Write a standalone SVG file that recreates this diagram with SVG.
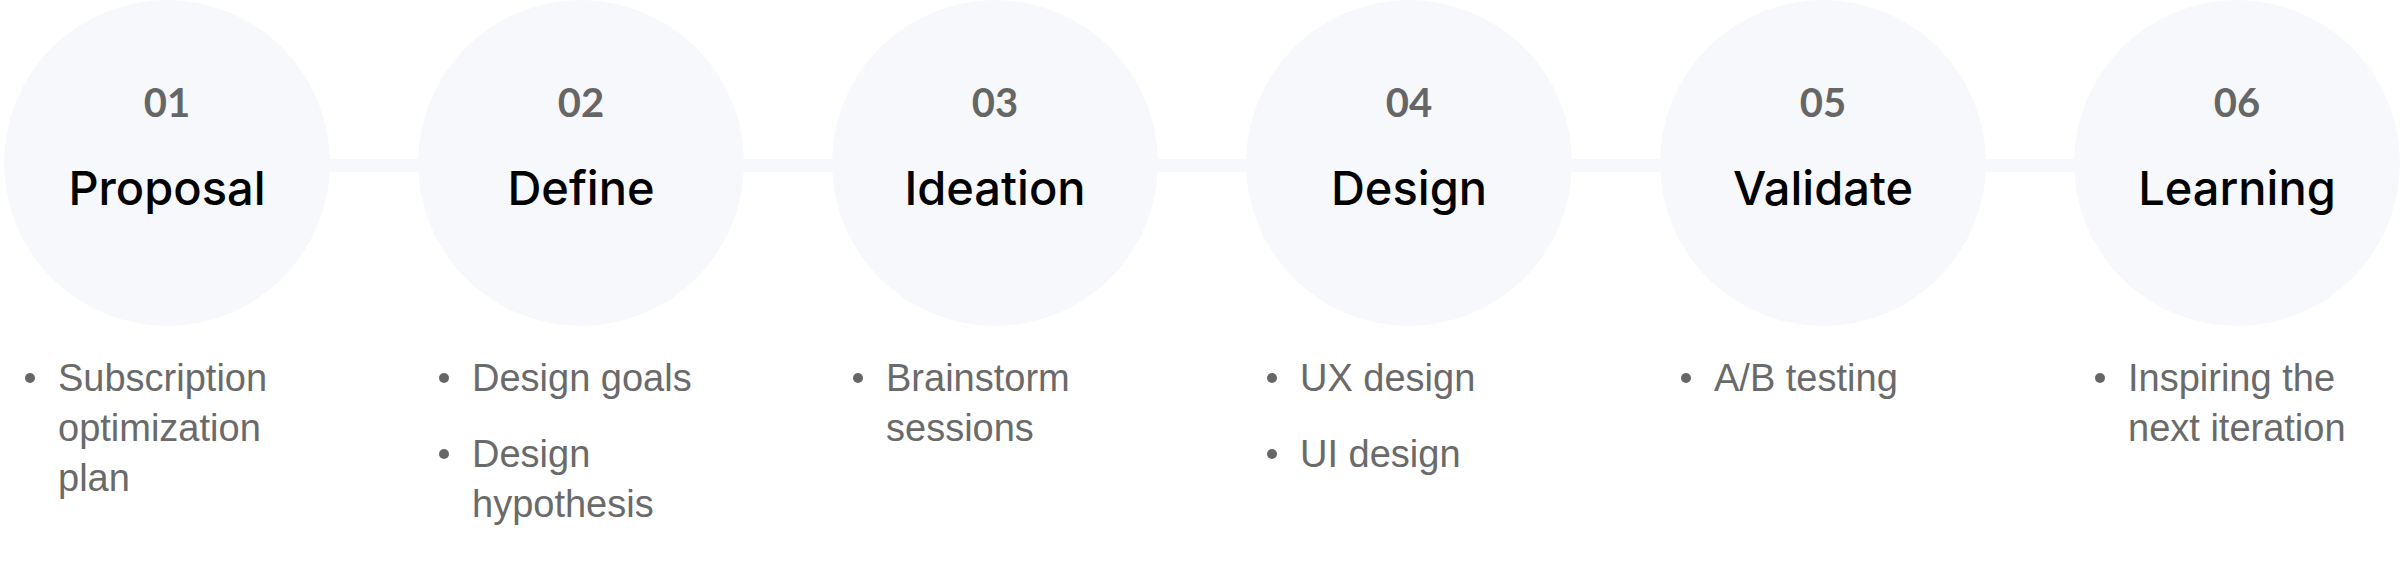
<svg xmlns="http://www.w3.org/2000/svg" width="2400" height="570" viewBox="0 0 2400 570">
<style>
.bg{fill:#ffffff}
.c{fill:#F7F8FC}
.bar{fill:#F7F8FC}
.num{font-family:"Lato","Noto Sans",sans-serif;font-weight:700;font-size:40px;fill:#666666;text-anchor:middle}
.ttl{font-family:"Inter","Liberation Sans",sans-serif;font-weight:500;font-size:47px;fill:#000000;text-anchor:middle}
.txt{font-family:"Liberation Sans","Noto Sans",sans-serif;font-size:38px;fill:#6a6a6a}
.dot{fill:#666666}
</style>
<rect class="bg" x="0" y="0" width="2400" height="570"/>
<g id="connectors">
<rect class="bar" x="320" y="159" width="110" height="13"/>
<rect class="bar" x="734" y="159" width="110" height="13"/>
<rect class="bar" x="1148" y="159" width="110" height="13"/>
<rect class="bar" x="1562" y="159" width="110" height="13"/>
<rect class="bar" x="1976" y="159" width="110" height="13"/>
</g>
<g id="step1">
<circle class="c" cx="167" cy="163" r="163"/>
<text class="num" x="167" y="117">01</text>
<text class="ttl" x="167" y="205">Proposal</text>
<circle class="dot" cx="30" cy="378" r="5"/>
<text class="txt" x="58" y="391">Subscription</text>
<text class="txt" x="58" y="441">optimization</text>
<text class="txt" x="58" y="491">plan</text>
</g>
<g id="step2">
<circle class="c" cx="581" cy="163" r="163"/>
<text class="num" x="581" y="117">02</text>
<text class="ttl" x="581" y="205">Define</text>
<circle class="dot" cx="444" cy="378" r="5"/>
<text class="txt" x="472" y="391">Design goals</text>
<circle class="dot" cx="444" cy="454" r="5"/>
<text class="txt" x="472" y="467">Design</text>
<text class="txt" x="472" y="517">hypothesis</text>
</g>
<g id="step3">
<circle class="c" cx="995" cy="163" r="163"/>
<text class="num" x="995" y="117">03</text>
<text class="ttl" x="995" y="205">Ideation</text>
<circle class="dot" cx="858" cy="378" r="5"/>
<text class="txt" x="886" y="391">Brainstorm</text>
<text class="txt" x="886" y="441">sessions</text>
</g>
<g id="step4">
<circle class="c" cx="1409" cy="163" r="163"/>
<text class="num" x="1409" y="117">04</text>
<text class="ttl" x="1409" y="205">Design</text>
<circle class="dot" cx="1272" cy="378" r="5"/>
<text class="txt" x="1300" y="391">UX design</text>
<circle class="dot" cx="1272" cy="454" r="5"/>
<text class="txt" x="1300" y="467">UI design</text>
</g>
<g id="step5">
<circle class="c" cx="1823" cy="163" r="163"/>
<text class="num" x="1823" y="117">05</text>
<text class="ttl" x="1823" y="205">Validate</text>
<circle class="dot" cx="1686" cy="378" r="5"/>
<text class="txt" x="1714" y="391">A/B testing</text>
</g>
<g id="step6">
<circle class="c" cx="2237" cy="163" r="163"/>
<text class="num" x="2237" y="117">06</text>
<text class="ttl" x="2237" y="205">Learning</text>
<circle class="dot" cx="2100" cy="378" r="5"/>
<text class="txt" x="2128" y="391">Inspiring the</text>
<text class="txt" x="2128" y="441">next iteration</text>
</g>
</svg>
